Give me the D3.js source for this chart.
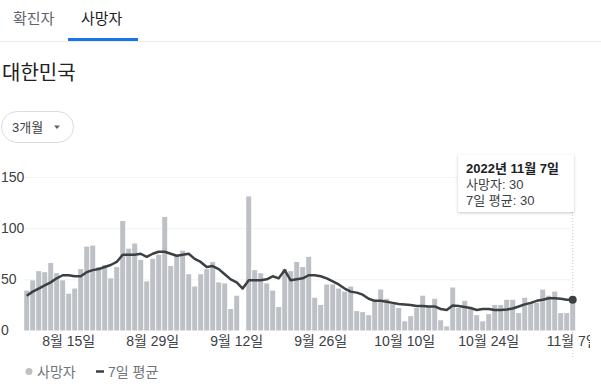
<!DOCTYPE html>
<html><head><meta charset="utf-8">
<script src="https://cdn.jsdelivr.net/npm/d3@7"></script>
<style>
html,body{margin:0;padding:0;background:#fff;}
svg{display:block;font-family:"Liberation Sans","Noto Sans CJK KR",Arial,sans-serif;}
</style></head>
<body>
<svg id="c" width="601" height="387"></svg>
<script>
// ---- data ----
const startDate = new Date(2022, 7, 8);   // 2022-08-08
const endDate = new Date(2022, 10, 8);    // exclusive -> last day 2022-11-07
const deaths = [39,49,58,57,66,56,49,36,41,60, 82,83,62,64,51,62,107,80,85,69,
  48,70,74,111,63,73,78,55,43,55, 60,67,47,46,21,34,0,131,59,56,
  46,39,23,60,58,67,62,72,32,25, 45,45,41,38,43,19,18,15,30,40,
  31,26,22,9,14,22,34,23,31,10, 4,42,22,29,22,15,9,16,25,25,
  30,30,17,32,27,27,40,34,38,17, 17,30];
const avg7 = [34,38,41,44,47,51,54,54,53,53, 57,59,60,62,64,67,74,74,74,75,
  72,75,77,77,75,73,74,75,70,67, 62,63,60,55,50,47,41,49,49,49,
  50,53,51,59,49,50,51,54,54,53, 51,48,45,41,38,37,35,31,29,29,
  28,27,26,25.5,25,24,24,23.5,23.5,21, 20,24.5,24,23,22,20,21,21,20,20,
  20.5,21.5,23.5,25.5,27,29,30,31.5,31.5,31, 30,30];
const yTicks = [0, 50, 100, 150];
const xTickDates = ["2022-08-15","2022-08-29","2022-09-12","2022-09-26","2022-10-10","2022-10-24","2022-11-07"];
const xTickLabels = ["8월 15일","8월 29일","9월 12일","9월 26일","10월 10일","10월 24일","11월 7일"];
const tabs = ["확진자","사망자"];
const legendLabels = ["사망자","7일 평균"];

const fmt = d3.timeFormat("%Y-%m-%d");
const dates = d3.timeDay.range(startDate, endDate).map(fmt);
const rows = dates.map((d,i)=>({date:d, v:deaths[i], a:avg7[i]}));

const svg = d3.select("#c");
const barColor = "#bdc1c6", lineColor = "#3c4043";

// ---- header ----
svg.append("text").attr("x",13).attr("y",24).attr("font-size",15).attr("fill","#5f6368").text(tabs[0]);
svg.append("text").attr("x",81).attr("y",24).attr("font-size",15).attr("fill","#202124").text(tabs[1]);
svg.append("line").attr("x1",0).attr("x2",601).attr("y1",41.5).attr("y2",41.5).attr("stroke","#e8eaed");
svg.append("rect").attr("x",68).attr("y",38).attr("width",70).attr("height",3).attr("fill","#1a73e8");
svg.append("text").attr("x",2).attr("y",80).attr("font-size",20).attr("fill","#202124").text("대한민국");
svg.append("rect").attr("x",1.5).attr("y",111.5).attr("width",72).attr("height",31).attr("rx",15.5)
  .attr("fill","#fff").attr("stroke","#dadce0");
svg.append("text").attr("x",12).attr("y",132).attr("font-size",13).attr("fill","#3c4043").text("3개월");
svg.append("path").attr("d","M54,125.5L60,125.5L57,129Z").attr("fill","#5f6368");

// ---- scales ----
const x = d3.scaleBand().domain(dates).range([23.7, 575.7]).paddingInner(0.17).paddingOuter(0.085);
const y = d3.scaleLinear().domain([0,150]).range([330.5, 177]);
const cx = d => x(d) + x.bandwidth()/2;

const clip = svg.append("defs");
clip.append("clipPath").attr("id","cl").append("rect").attr("x",0).attr("y",0).attr("width",590).attr("height",387);
const f = clip.append("filter").attr("id","sh").attr("x","-20%").attr("y","-20%").attr("width","140%").attr("height","150%");
f.append("feDropShadow").attr("dx",0).attr("dy",1).attr("stdDeviation",1.5).attr("flood-color","#000").attr("flood-opacity",0.22);

// grid + y labels
const yAxis = d3.axisLeft(y).tickValues(yTicks.slice(1)).tickSize(-(571-25)).tickFormat("");
svg.append("g").attr("transform","translate(25,0)").call(yAxis)
  .call(g=>g.select(".domain").remove())
  .call(g=>g.selectAll(".tick line").attr("stroke","#f1f3f4"));
svg.append("g").selectAll("text").data(yTicks).join("text")
  .attr("x",1).attr("y",d=>y(d)).attr("dy","0.35em").attr("font-size",14).attr("fill","#3c4043").text(d=>d);

// bars
svg.append("g").selectAll("rect").data(rows).join("rect")
  .attr("x",d=>x(d.date)).attr("width",x.bandwidth())
  .attr("y",d=>y(d.v)).attr("height",d=>y(0)-y(d.v)).attr("fill",barColor);

// line
const line = d3.line().x(d=>cx(d.date)).y(d=>y(d.a));
svg.append("path").datum(rows).attr("d",line).attr("fill","none")
  .attr("stroke",lineColor).attr("stroke-width",2.5).attr("stroke-linejoin","round");

// x axis
const xAxis = d3.axisBottom(x).tickValues(xTickDates).tickSize(0)
  .tickFormat(d=>xTickLabels[xTickDates.indexOf(d)]);
svg.append("g").attr("clip-path","url(#cl)").append("g").attr("transform","translate(0,333)").call(xAxis)
  .call(g=>g.select(".domain").remove())
  .call(g=>g.selectAll("text").attr("font-size",14).attr("fill","#3c4043")
    .attr("font-family","\"Liberation Sans\",\"Noto Sans CJK KR\",sans-serif"));

// hover
const last = rows[rows.length-1];
svg.append("line").attr("x1",cx(last.date)).attr("x2",cx(last.date)).attr("y1",212).attr("y2",358)
  .attr("stroke","#c8c8c8").attr("stroke-dasharray","1,2");
svg.append("circle").attr("cx",cx(last.date)).attr("cy",y(last.a)).attr("r",4).attr("fill",lineColor);

// tooltip
const tt = svg.append("g");
tt.append("rect").attr("x",458).attr("y",155).attr("width",116).attr("height",57).attr("fill","#fff").attr("filter","url(#sh)");
tt.append("text").attr("x",466).attr("y",173).attr("font-size",13).attr("font-weight","bold").attr("fill","#202124").text("2022년 11월 7일");
tt.append("text").attr("x",466).attr("y",189).attr("font-size",13).attr("fill","#3c4043").text(`${legendLabels[0]}: ${last.v}`);
tt.append("text").attr("x",466).attr("y",205).attr("font-size",13).attr("fill","#3c4043").text(`${legendLabels[1]}: ${Math.round(last.a)}`);

// legend
svg.append("circle").attr("cx",29).attr("cy",371.5).attr("r",3.5).attr("fill",barColor);
svg.append("text").attr("x",37).attr("y",377).attr("font-size",14).attr("fill","#70757a").text(legendLabels[0]);
svg.append("line").attr("x1",96).attr("x2",104).attr("y1",371.5).attr("y2",371.5).attr("stroke",lineColor).attr("stroke-width",2.5);
svg.append("text").attr("x",108).attr("y",377).attr("font-size",14).attr("fill","#70757a").text(legendLabels[1]);
</script>
</body></html>
